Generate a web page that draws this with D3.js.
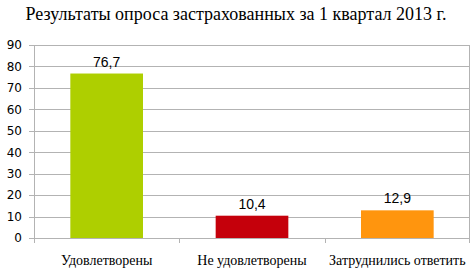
<!DOCTYPE html>
<html>
<head>
<meta charset="utf-8">
<script src="https://d3js.org/d3.v7.min.js"></script>
<style>
  body { margin: 0; background: #fff; }
  svg { display: block; }
</style>
</head>
<body>
<div id="chart"></div>
<script>
// chart data
var categories = ["Удовлетворены", "Не удовлетворены", "Затруднились ответить"];
var values = [76.7, 10.4, 12.9];
var labels = ["76,7", "10,4", "12,9"];
var colors = ["#aecf00", "#c5000b", "#ff950e"];
var yTicks = [0, 10, 20, 30, 40, 50, 60, 70, 80, 90];

var W = 476, H = 274;
var plotLeft = 34, plotRight = 470, plotTop = 45, plotBottom = 238;
var serif = "'Liberation Serif', 'Times New Roman', monospace";
var sans = "'Liberation Sans', Arial, sans-serif";

var svg = d3.select("#chart").append("svg")
    .attr("width", W).attr("height", H);

var x = d3.scaleBand().domain(categories).range([plotLeft, plotRight]).paddingInner(0.5).paddingOuter(0.25);
var y = d3.scaleLinear().domain([0, 90]).range([plotBottom, plotTop]);

svg.append("text")
    .attr("x", 236).attr("y", 20).attr("text-anchor", "middle")
    .style("font-family", serif).style("font-size", "18px")
    .text("Результаты опроса застрахованных за 1 квартал 2013 г.");

// gridlines
svg.append("g").selectAll("line").data(yTicks).enter().append("line")
    .attr("x1", plotLeft - 5).attr("x2", plotRight)
    .attr("y1", function(d){ return Math.round(y(d)) + 0.5; })
    .attr("y2", function(d){ return Math.round(y(d)) + 0.5; })
    .attr("stroke", "#b3b3b3");

// y axis line + right border
svg.append("line").attr("x1", plotLeft + 0.5).attr("x2", plotLeft + 0.5)
    .attr("y1", plotTop).attr("y2", plotBottom + 5).attr("stroke", "#b3b3b3");
svg.append("line").attr("x1", plotRight - 0.5).attr("x2", plotRight - 0.5)
    .attr("y1", plotTop).attr("y2", plotBottom + 5).attr("stroke", "#b3b3b3");

// y tick labels
svg.append("g").selectAll("text").data(yTicks).enter().append("text")
    .attr("x", 22).attr("y", function(d){ return y(d); })
    .attr("dy", "0.36em").attr("text-anchor", "end")
    .style("font-family", "'DejaVu Sans', sans-serif").style("font-size", "12px")
    .text(function(d){ return d; });

// category boundary ticks
var bounds = [1, 2].map(function(i){ return plotLeft + (plotRight - plotLeft) * i / 3; });
svg.append("g").selectAll("line").data(bounds).enter().append("line")
    .attr("x1", function(d){ return Math.round(d) + 0.5; })
    .attr("x2", function(d){ return Math.round(d) + 0.5; })
    .attr("y1", plotBottom).attr("y2", plotBottom + 5)
    .attr("stroke", "#b3b3b3");

// bars
svg.append("g").selectAll("rect").data(values).enter().append("rect")
    .attr("x", function(d, i){ return x(categories[i]); })
    .attr("width", x.bandwidth())
    .attr("y", function(d){ return y(d); })
    .attr("height", function(d){ return y(0) - y(d); })
    .attr("fill", function(d, i){ return colors[i]; });

// value labels
svg.append("g").selectAll("text").data(values).enter().append("text")
    .attr("x", function(d, i){ return x(categories[i]) + x.bandwidth() / 2; })
    .attr("y", function(d){ return y(d) - 7; })
    .attr("text-anchor", "middle")
    .style("font-family", sans).style("font-size", "14px")
    .text(function(d, i){ return labels[i]; });

// category labels
svg.append("g").selectAll("text").data(categories).enter().append("text")
    .attr("x", function(d){ return x(d) + x.bandwidth() / 2; })
    .attr("y", 265)
    .attr("text-anchor", "middle")
    .style("font-family", serif).style("font-size", "14px")
    .text(function(d){ return d; });
</script>
</body>
</html>
